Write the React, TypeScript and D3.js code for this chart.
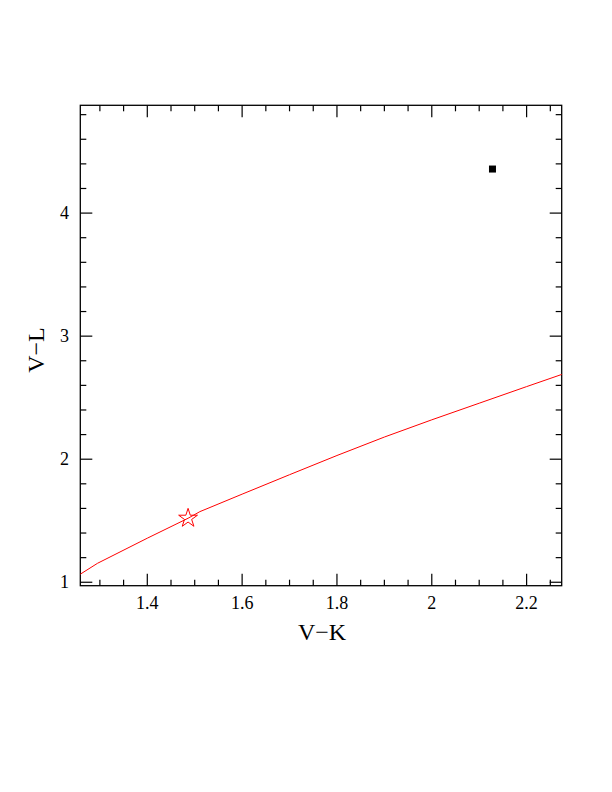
import React, { useEffect, useRef } from 'react';
import * as d3 from 'd3';

// model track (V-K, V-L)
const trackVK = [1.24, 1.295, 1.40, 1.486, 1.511, 1.60, 1.70, 1.80, 1.90, 2.00, 2.10, 2.20, 2.29];
const trackVL = [1.02, 1.154, 1.358, 1.52, 1.574, 1.716, 1.874, 2.03, 2.18, 2.32, 2.455, 2.59, 2.71];

// star marker
const starVK = [1.486];
const starVL = [1.52];

// observed point
const obsVK = [2.128];
const obsVL = [4.358];

const xMajor = [1.4, 1.6, 1.8, 2, 2.2];
const xMajorLabels = ['1.4', '1.6', '1.8', '2', '2.2'];
const yMajor = [1, 2, 3, 4];
const yMajorLabels = ['1', '2', '3', '4'];

const App: React.FC = () => {
    const ref = useRef<SVGSVGElement | null>(null);

    useEffect(() => {
        if (!ref.current) return;
        document.body.style.margin = '0';

        const width = 612;
        const height = 792;
        const left = 80.3, right = 561.7, top = 105.3, bottom = 585.7;

        const svg = d3.select(ref.current);
        svg.selectAll('*').remove();
        svg.attr('width', width).attr('height', height);

        const x = d3.scaleLinear().domain([1.2587, 2.274]).range([left, right]);
        const y = d3.scaleLinear().domain([0.972, 4.876]).range([bottom, top]);

        const font = "'Liberation Serif', 'DejaVu Serif', serif";

        // clip for data
        svg.append('defs').append('clipPath').attr('id', 'plotclip')
            .append('rect')
            .attr('x', left).attr('y', top)
            .attr('width', right - left).attr('height', bottom - top);

        // minor / major ticks
        const xMinor = d3.range(1.30, 2.2701, 0.05).filter(v => !xMajor.some(m => Math.abs(m - v) < 1e-6));
        const yMinor = d3.range(1.0, 4.8701, 0.2).filter(v => !yMajor.some(m => Math.abs(m - v) < 1e-6));

        const tg = svg.append('g').attr('stroke', '#000').attr('stroke-width', 1.2);
        const tickX = (vals: number[], len: number) => {
            vals.forEach(v => {
                tg.append('line').attr('x1', x(v)).attr('x2', x(v)).attr('y1', bottom).attr('y2', bottom - len);
                tg.append('line').attr('x1', x(v)).attr('x2', x(v)).attr('y1', top).attr('y2', top + len);
            });
        };
        const tickY = (vals: number[], len: number) => {
            vals.forEach(v => {
                tg.append('line').attr('y1', y(v)).attr('y2', y(v)).attr('x1', left).attr('x2', left + len);
                tg.append('line').attr('y1', y(v)).attr('y2', y(v)).attr('x1', right).attr('x2', right - len);
            });
        };
        tickX(xMinor, 6);
        tickX(xMajor, 12);
        tickY(yMinor, 6);
        tickY(yMajor, 12);

        // frame
        svg.append('rect')
            .attr('x', left).attr('y', top)
            .attr('width', right - left).attr('height', bottom - top)
            .attr('fill', 'none').attr('stroke', '#000').attr('stroke-width', 1.3);

        // tick labels
        svg.selectAll('text.xt')
            .data(xMajor)
            .enter()
            .append('text')
            .attr('class', 'xt')
            .attr('x', d => x(d))
            .attr('y', 609)
            .attr('text-anchor', 'middle')
            .style('font-family', font)
            .style('font-size', '18px')
            .text((d, i) => xMajorLabels[i]);

        svg.selectAll('text.yt')
            .data(yMajor)
            .enter()
            .append('text')
            .attr('class', 'yt')
            .attr('x', 69)
            .attr('y', d => y(d) + 6)
            .attr('text-anchor', 'end')
            .style('font-family', font)
            .style('font-size', '18px')
            .text((d, i) => yMajorLabels[i]);

        // axis titles
        svg.append('text')
            .attr('x', 322)
            .attr('y', 640)
            .attr('text-anchor', 'middle')
            .style('font-family', font)
            .style('font-size', '24px')
            .text('V\u2212K');

        svg.append('text')
            .attr('transform', `translate(44, 350) rotate(-90)`)
            .attr('text-anchor', 'middle')
            .style('font-family', font)
            .style('font-size', '24px')
            .text('V\u2212L');

        const plot = svg.append('g').attr('clip-path', 'url(#plotclip)');

        // model track
        const line = d3.line<number>()
            .x((d, i) => x(trackVK[i]))
            .y(d => y(d));

        plot.append('path')
            .datum(trackVL)
            .attr('fill', 'none')
            .attr('stroke', '#ff0000')
            .attr('stroke-width', 1)
            .attr('d', line);

        // star
        const star = d3.symbol().type(d3.symbolStar).size(110);
        plot.selectAll('path.star')
            .data(starVL)
            .enter()
            .append('path')
            .attr('class', 'star')
            .attr('transform', (d, i) => `translate(${x(starVK[i])}, ${y(d)})`)
            .attr('d', star)
            .attr('fill', 'none')
            .attr('stroke', '#ff0000')
            .attr('stroke-width', 1);

        // observed point
        plot.selectAll('rect.obs')
            .data(obsVL)
            .enter()
            .append('rect')
            .attr('class', 'obs')
            .attr('x', (d, i) => x(obsVK[i]) - 3.5)
            .attr('y', d => y(d) - 3.5)
            .attr('width', 7)
            .attr('height', 7)
            .attr('fill', '#000');
    }, []);

    return <svg ref={ref} />;
};

export default App;
